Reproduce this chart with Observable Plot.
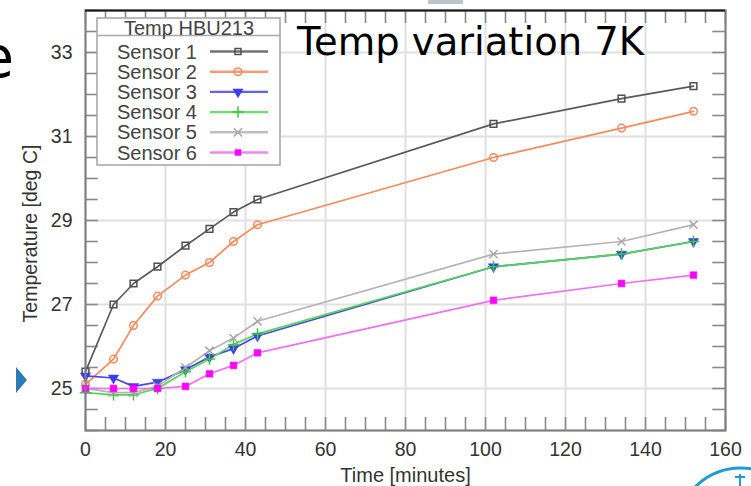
<!DOCTYPE html>
<html><head><meta charset="utf-8">
<script src="https://cdn.jsdelivr.net/npm/d3@7"></script>
<script src="https://cdn.jsdelivr.net/npm/@observablehq/plot@0.6"></script>
<style>
body{margin:0;background:#fff;}
#wrap{position:relative;width:751px;height:486px;overflow:hidden;background:#fff;}
#wrap svg{position:absolute;left:0;top:0;}
</style></head><body><div id="wrap"></div>
<script>
// ---- data ----
const times   = [0, 7, 12, 18, 25, 31, 37, 43, 102, 134, 152];
const sensor1 = [25.4, 27.0, 27.5, 27.9, 28.4, 28.8, 29.2, 29.5, 31.3, 31.9, 32.2];
const sensor2 = [25.1, 25.7, 26.5, 27.2, 27.7, 28.0, 28.5, 28.9, 30.5, 31.2, 31.6];
const sensor3 = [25.3, 25.25, 25.05, 25.15, 25.45, 25.75, 25.95, 26.25, 27.9, 28.2, 28.5];
const sensor4 = [24.9, 24.85, 24.85, 25.0, 25.4, 25.7, 26.05, 26.3, 27.9, 28.2, 28.5];
const sensor5 = [25.0, 24.9, 24.9, 25.05, 25.5, 25.9, 26.2, 26.6, 28.2, 28.5, 28.9];
const sensor6 = [25.0, 25.0, 25.0, 25.0, 25.05, 25.35, 25.55, 25.85, 27.1, 27.5, 27.7];
const seriesNames = ["Sensor 1", "Sensor 2", "Sensor 3", "Sensor 4", "Sensor 5", "Sensor 6"];
const xTickLabels = [0, 20, 40, 60, 80, 100, 120, 140, 160];
const yTickLabels = [25, 27, 29, 31, 33];
const legendTitle = "Temp HBU213";
const xLabel = "Time [minutes]";
const yLabel = "Temperature [deg C]";
const overlayTitle = "Temp variation 7K";

// ---- styles ----
const lineColors = ["#5a5a5a", "#f78a5a", "#4646ee", "#52d852", "#b4b4b4", "#f070f0"];
const markColors = ["#505050", "#f78a5a", "#3c3cf0", "#3cc83c", "#a8a8a8", "#ff00ff"];
const symbols = ["square", "circle", "triangle", "plus", "times", "square"];
const filled = [false, false, true, false, false, true];
const rotations = [0, 0, 180, 0, 0, 0];

const allSeries = [sensor1, sensor2, sensor3, sensor4, sensor5, sensor6];
const rows = [];
allSeries.forEach((vals, i) => times.forEach((t, j) => rows.push({series: seriesNames[i], idx: i, time: t, temp: vals[j]})));

const xDomain = [0, 160], yDomain = [24, 34];
const minorX = d3.range(0, 161, 5);
const minorY = d3.range(24, 34.001, 0.5);
const tickLenX = 3.2;   // in x units (~13px)
const tickLenY = 0.31;  // in y units (~13px)

const font = "'Liberation Sans', Arial, Helvetica, sans-serif";

const chart = Plot.plot({
  width: 751, height: 486,
  marginLeft: 85, marginRight: 26, marginTop: 10, marginBottom: 56,
  x: {domain: xDomain},
  y: {domain: yDomain},
  color: {domain: seriesNames, range: lineColors},
  style: {fontFamily: font, fontSize: "19px", color: "#333", background: "transparent", overflow: "visible"},
  marks: [
    Plot.gridX(xTickLabels.slice(1, -1), {stroke: "#e0e0e0", strokeOpacity: 1, strokeWidth: 2}),
    Plot.gridY(yTickLabels, {stroke: "#e0e0e0", strokeOpacity: 1, strokeWidth: 2}),
    Plot.ruleX(minorX, {y1: yDomain[0], y2: yDomain[0] + tickLenY, stroke: "#8a8a8a", strokeWidth: 1.6}),
    Plot.ruleX(minorX, {y1: yDomain[1], y2: yDomain[1] - tickLenY, stroke: "#8a8a8a", strokeWidth: 1.6}),
    Plot.ruleY(minorY, {x1: xDomain[0], x2: xDomain[0] + tickLenX, stroke: "#8a8a8a", strokeWidth: 1.6}),
    Plot.ruleY(minorY, {x1: xDomain[1], x2: xDomain[1] - tickLenX, stroke: "#8a8a8a", strokeWidth: 1.6}),
    Plot.axisX(xTickLabels, {tickSize: 0, tickPadding: 12, fontSize: 19.5, fill: "#333", label: null}),
    Plot.axisY(yTickLabels, {tickSize: 0, tickPadding: 13, fontSize: 19.5, fill: "#333", label: null}),
    Plot.text([xLabel], {frameAnchor: "bottom", textAnchor: "middle", lineAnchor: "bottom", dy: 51, fontSize: 20, fill: "#333", text: d => d}),
    Plot.text([yLabel], {frameAnchor: "left", textAnchor: "middle", lineAnchor: "middle", rotate: -90, dx: -55, dy: 13, fontSize: 19.5, fill: "#333", text: d => d}),
    Plot.line(rows, {x: "time", y: "temp", z: "series", stroke: "series", strokeWidth: 1.7}),
    ...seriesNames.map((name, i) => Plot.dot(rows.filter(d => d.idx === i), {
      x: "time", y: "temp", symbol: symbols[i], r: 3.8, rotate: rotations[i],
      fill: filled[i] ? markColors[i] : "none",
      stroke: markColors[i], strokeWidth: filled[i] ? 0.5 : 1.5
    })),
    Plot.frame({stroke: "#808080", strokeWidth: 2.2}),
    Plot.ruleY([yDomain[1]], {stroke: "#1e1e1e", strokeWidth: 2})
  ]
});
document.getElementById("wrap").appendChild(chart);

// ---- overlay: legend + slide decorations ----
const ov = d3.select("#wrap").append("svg")
  .attr("width", 751).attr("height", 486).style("pointer-events", "none");

// legend box
const lg = ov.append("g").attr("transform", "translate(97,18)").style("font-family", font);
lg.append("rect").attr("width", 183).attr("height", 147).attr("fill", "#fff").attr("stroke", "#a8a8a8").attr("stroke-width", 1.6);
lg.append("line").attr("x1", 0).attr("x2", 183).attr("y1", 17.5).attr("y2", 17.5).attr("stroke", "#a8a8a8").attr("stroke-width", 1.4);
lg.append("text").attr("x", 92).attr("y", 16.5).attr("text-anchor", "middle").attr("font-size", 20).attr("fill", "#444").text(legendTitle);
const symMap = {square: d3.symbolSquare2, circle: d3.symbolCircle, triangle: d3.symbolTriangle, plus: d3.symbolPlus, times: d3.symbolTimes};
seriesNames.forEach((name, i) => {
  const y = 33.5 + i * 20.2;
  lg.append("text").attr("x", 100).attr("y", y + 7).attr("text-anchor", "end").attr("font-size", 20).attr("fill", "#444").text(name);
  lg.append("line").attr("x1", 113).attr("x2", 171).attr("y1", y).attr("y2", y).attr("stroke", lineColors[i]).attr("stroke-width", 2.4).attr("stroke-opacity", 0.85);
  const sym = d3.symbol(symMap[symbols[i]], 45)();
  lg.append("path").attr("d", sym)
    .attr("transform", `translate(141,${y}) rotate(${rotations[i]})`)
    .attr("fill", filled[i] ? markColors[i] : "none")
    .attr("stroke", markColors[i]).attr("stroke-width", filled[i] ? 0.5 : 1.5);
});

// big overlay title from the slide
ov.append("text").attr("x", 297).attr("y", 55).attr("font-family", "'DejaVu Sans', Verdana, sans-serif")
  .attr("font-size", 38.5).attr("fill", "#000").text(overlayTitle);

// cut-off slide letter (the reference shows only its right part), bullet arrow, icon and tab
ov.append("text").attr("x", -21).attr("y", 77).attr("font-family", "'DejaVu Sans', Verdana, sans-serif")
  .attr("font-size", 57).attr("fill", "#000").text("e");
ov.append("path").attr("d", "M16,367 L27,380 L16,393 Z").attr("fill", "#2c7bb6");
ov.append("circle").attr("cx", 741).attr("cy", 533).attr("r", 65).attr("fill", "none").attr("stroke", "#1e9ad8").attr("stroke-width", 3);
ov.append("path").attr("d", "M740,474 V486 M735,477 H745").attr("stroke", "#1e9ad8").attr("stroke-width", 2).attr("fill", "none");
ov.append("rect").attr("x", 428).attr("y", 0).attr("width", 35).attr("height", 4).attr("fill", "#8894a0").attr("opacity", 0.55);
</script></body></html>
